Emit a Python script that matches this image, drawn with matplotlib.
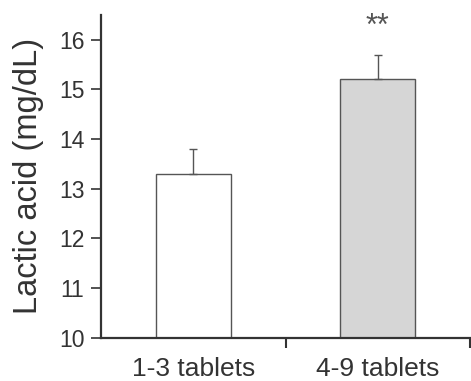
import matplotlib
matplotlib.use("Agg")
import matplotlib.pyplot as plt

groups = ["1-3 tablets", "4-9 tablets"]
means = [13.3, 15.2]
errors = [0.5, 0.5]
colors = ["white", "#d6d6d6"]
sig = ["", "**"]

plt.rcParams['font.family'] = ['Liberation Sans', 'DejaVu Sans']

fig = plt.figure(figsize=(4.71, 3.81), dpi=100)
ax = fig.add_axes([0.2144, 0.1136, 0.7836, 0.8474])

x = list(range(len(groups)))
base = 10
ax.bar(x, [m - base for m in means], bottom=base, width=0.405, color=colors,
       edgecolor="#555555", linewidth=1.0)
ax.errorbar(x, means, yerr=[[0, 0], errors], fmt="none", ecolor="#555555",
            elinewidth=1.0, capsize=3, capthick=1.0)
for xi, m, e, s in zip(x, means, errors, sig):
    if s:
        ax.text(xi, m + e + 0.55, s, ha="center", va="center", fontsize=22, color="#555555")

ax.set_xlim(-0.5, 1.5)
ax.set_ylim(10, 16.5)
ax.set_yticks([10, 11, 12, 13, 14, 15, 16])
ax.set_xticks([0.5, 1.5])
ax.set_xticklabels([])
ax.set_xticks(x, minor=True)
ax.set_xticklabels(groups, minor=True, fontsize=19, color="#333333")
ax.tick_params(axis="x", which="minor", length=0, pad=14)
ax.tick_params(axis="x", which="major", length=7, width=1.5, color="#333333")
ax.tick_params(axis="y", length=7, width=1.2, color="#333333", labelsize=16.5,
               labelcolor="#333333", pad=5)
ax.set_ylabel("Lactic acid (mg/dL)", fontsize=23.5, color="#333333", labelpad=11)

for side in ["top", "right"]:
    ax.spines[side].set_visible(False)
for side in ["left", "bottom"]:
    ax.spines[side].set_linewidth(1.6)
    ax.spines[side].set_color("#333333")

fig.savefig("out.png", dpi=100)
